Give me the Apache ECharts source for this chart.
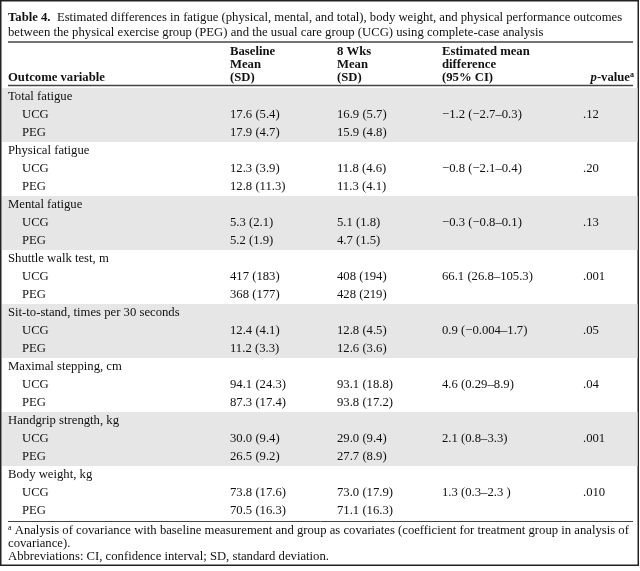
<!DOCTYPE html>
<html>
<head>
<meta charset="utf-8">
<script src="https://cdn.jsdelivr.net/npm/echarts@6/dist/echarts.min.js"></script>
<style>html,body{margin:0;padding:0;background:#fff}#c{width:640px;height:571px}</style>
</head>
<body>
<div id="c"></div>
<script>
// ---- data ----
const groups = ['Total fatigue','Physical fatigue','Mental fatigue','Shuttle walk test, m','Sit-to-stand, times per 30 seconds','Maximal stepping, cm','Handgrip strength, kg','Body weight, kg'];
const subgroups = ['UCG','PEG'];
const baselineUCG = ['17.6 (5.4)','12.3 (3.9)','5.3 (2.1)','417 (183)','12.4 (4.1)','94.1 (24.3)','30.0 (9.4)','73.8 (17.6)'];
const baselinePEG = ['17.9 (4.7)','12.8 (11.3)','5.2 (1.9)','368 (177)','11.2 (3.3)','87.3 (17.4)','26.5 (9.2)','70.5 (16.3)'];
const week8UCG = ['16.9 (5.7)','11.8 (4.6)','5.1 (1.8)','408 (194)','12.8 (4.5)','93.1 (18.8)','29.0 (9.4)','73.0 (17.9)'];
const week8PEG = ['15.9 (4.8)','11.3 (4.1)','4.7 (1.5)','428 (219)','12.6 (3.6)','93.8 (17.2)','27.7 (8.9)','71.1 (16.3)'];
const estDiff = ['\u22121.2 (\u22122.7\u20130.3)','\u22120.8 (\u22122.1\u20130.4)','\u22120.3 (\u22120.8\u20130.1)','66.1 (26.8\u2013105.3)','0.9 (\u22120.004\u20131.7)','4.6 (0.29\u20138.9)','2.1 (0.8\u20133.3)','1.3 (0.3\u20132.3 )'];
const pValues = ['.12','.20','.13','.001','.05','.04','.001','.010'];

// ---- layout ----
const FONT = '"Liberation Serif","Times New Roman",serif';
const FS = 12.7;
const colX = [8, 230, 337, 442, 583];
const indentX = 22;
const rowsPerGroup = 3;
const nRows = groups.length * rowsPerGroup;

// build cells: [x, rowCenter, text]
const cells = [];
groups.forEach((g, i) => {
  const r = i * rowsPerGroup;
  cells.push([colX[0], r + 0.5, g]);
  cells.push([indentX, r + 1.5, subgroups[0]]);
  cells.push([indentX, r + 2.5, subgroups[1]]);
  cells.push([colX[1], r + 1.5, baselineUCG[i]]);
  cells.push([colX[1], r + 2.5, baselinePEG[i]]);
  cells.push([colX[2], r + 1.5, week8UCG[i]]);
  cells.push([colX[2], r + 2.5, week8PEG[i]]);
  cells.push([colX[3], r + 1.5, estDiff[i]]);
  cells.push([colX[4], r + 1.5, pValues[i]]);
});
const bands = groups.map((g, i) => [i * rowsPerGroup, (i + 1) * rowsPerGroup, i % 2 === 0 ? 1 : 0]).filter(d => d[2]);

const chart = echarts.init(document.getElementById('c'), null, {renderer: 'canvas'});
const normFont = FS + 'px ' + FONT;
const boldFont = 'bold ' + FS + 'px ' + FONT;
const HDR_TOP = 45, HDR_LH = 13;
const TABLE_TOP = 88, ROW_H = 18;
const TABLE_BOTTOM = TABLE_TOP + ROW_H * nRows;
const FN_LH = 12.8;

chart.setOption({
  animation: false,
  grid: {left: 0, right: 0, top: TABLE_TOP, height: ROW_H * nRows},
  xAxis: {type: 'value', min: 0, max: 640, show: false},
  yAxis: {type: 'value', min: 0, max: nRows, inverse: true, show: false},
  series: [
    {
      type: 'custom', data: bands, silent: true, z: 1,
      renderItem: (params, api) => {
        const p0 = api.coord([2, api.value(0)]);
        const p1 = api.coord([637.5, api.value(1)]);
        return {type: 'rect', shape: {x: p0[0], y: p0[1], width: p1[0] - p0[0], height: p1[1] - p0[1]}, style: {fill: '#e6e6e6'}};
      }
    },
    {
      type: 'custom', data: cells, silent: true, z: 2,
      renderItem: (params, api) => {
        const p = api.coord([api.value(0), api.value(1)]);
        const d = cells[params.dataIndex];
        return {type: 'text', x: p[0], y: p[1], style: {text: d[2], font: normFont, fill: '#111', align: 'left', verticalAlign: 'middle'}};
      }
    }
  ],
  graphic: [
    {type: 'rect', shape: {x: 0.75, y: 0.75, width: 637.5, height: 564.5}, style: {fill: null, stroke: '#222', lineWidth: 1.5}},
    {type: 'text', x: 8, y: 17.5, style: {text: '{b|Table 4.}  Estimated differences in fatigue (physical, mental, and total), body weight, and physical performance outcomes', font: normFont, fill: '#111', verticalAlign: 'middle', rich: {b: {font: boldFont, fill: '#111'}}}},
    {type: 'text', x: 8, y: 32.5, style: {text: 'between the physical exercise group (PEG) and the usual care group (UCG) using complete-case analysis', font: normFont, fill: '#111', verticalAlign: 'middle'}},
    {type: 'line', shape: {x1: 8, y1: 42, x2: 633, y2: 42}, style: {stroke: '#444', lineWidth: 1.5}},
    {type: 'text', x: 8, y: HDR_TOP + HDR_LH * 2.5, style: {text: 'Outcome variable', font: boldFont, fill: '#111', verticalAlign: 'middle'}},
    {type: 'text', x: colX[1], y: HDR_TOP, style: {text: 'Baseline\nMean\n(SD)', font: boldFont, fill: '#111', verticalAlign: 'top', lineHeight: HDR_LH}},
    {type: 'text', x: colX[2], y: HDR_TOP, style: {text: '8 Wks\nMean\n(SD)', font: boldFont, fill: '#111', verticalAlign: 'top', lineHeight: HDR_LH}},
    {type: 'text', x: colX[3], y: HDR_TOP, style: {text: 'Estimated mean\ndifference\n(95% CI)', font: boldFont, fill: '#111', verticalAlign: 'top', lineHeight: HDR_LH}},
    {type: 'text', x: 634, y: HDR_TOP + HDR_LH * 2.5, style: {text: '{i|p}-value{s|a}', font: boldFont, fill: '#111', align: 'right', verticalAlign: 'middle', rich: {i: {font: 'bold italic ' + FS + 'px ' + FONT, fill: '#111'}, s: {font: 'bold 8px ' + FONT, fill: '#111', padding: [0, 0, 6, 0]}}}},
    {type: 'line', shape: {x1: 8, y1: 85.5, x2: 633, y2: 85.5}, style: {stroke: '#444', lineWidth: 1.5}},
    {type: 'line', shape: {x1: 8, y1: TABLE_BOTTOM + 1.5, x2: 633, y2: TABLE_BOTTOM + 1.5}, style: {stroke: '#444', lineWidth: 1}},
    {type: 'text', x: 8, y: TABLE_BOTTOM + 11, style: {text: '{s|a} Analysis of covariance with baseline measurement and group as covariates (coefficient for treatment group in analysis of', font: normFont, fill: '#111', verticalAlign: 'middle', rich: {s: {font: '8px ' + FONT, fill: '#111', padding: [0, 0, 6, 0]}}}},
    {type: 'text', x: 8, y: TABLE_BOTTOM + 11 + FN_LH, style: {text: 'covariance).', font: normFont, fill: '#111', verticalAlign: 'middle'}},
    {type: 'text', x: 8, y: TABLE_BOTTOM + 11 + FN_LH * 2, style: {text: 'Abbreviations: CI, confidence interval; SD, standard deviation.', font: normFont, fill: '#111', verticalAlign: 'middle'}}
  ]
});
</script>
</body>
</html>
